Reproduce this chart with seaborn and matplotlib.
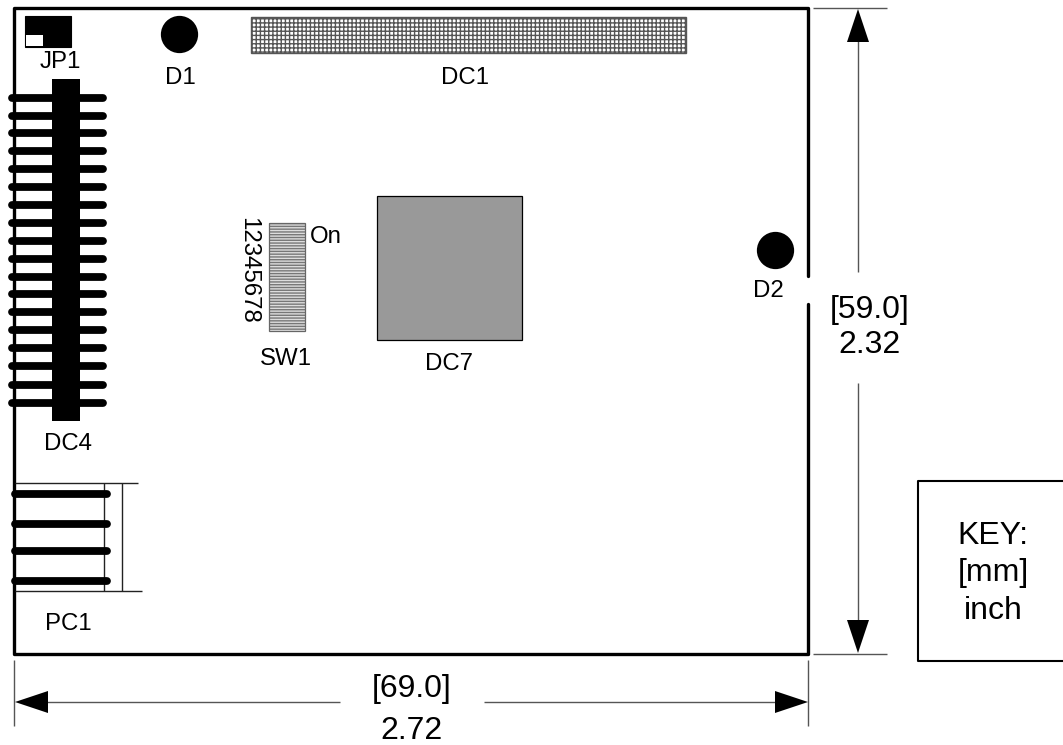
import matplotlib
matplotlib.use("Agg")
import matplotlib.pyplot as plt
from matplotlib.patches import Rectangle, Polygon
import seaborn as sns
import pandas as pd

sns.set_style("white")
plt.rcParams['font.family'] = ['Liberation Sans', 'DejaVu Sans']

board_path = [(808, 276), (808, 8), (14, 8), (14, 654), (808, 654), (808, 304)]
led_x = [178.5, 775]
led_y = [34, 250]
dc4_pin_y = [97.5, 115.5, 133, 151, 169, 187, 205, 222.5, 240.5, 258.5, 276.5, 294, 312, 330, 348, 366, 384.5, 402.5]
pc1_pin_y = [493.5, 523.5, 551, 581]

# (x0, y0, x1, y1)
thin_lines = [
    (15, 483, 138, 483), (15, 591, 142, 591), (104, 483, 104, 591), (122, 483, 122, 591),
    (813, 8, 887, 8), (813, 654, 887, 654), (858, 40, 858, 272), (858, 383, 858, 622),
    (14, 660, 14, 726), (808, 660, 808, 726), (46, 702, 340, 702), (484, 702, 777, 702),
]
key_box = [(1063, 481), (918, 481), (918, 661), (1063, 661)]
arrows = [
    [(858, 9), (847, 42), (869, 42)],
    [(858, 653), (847, 620), (869, 620)],
    [(15, 702), (48, 691), (48, 713)],
    [(808, 702), (775, 691), (775, 713)],
]

small_labels = [("JP1", 60, 62), ("D1", 180, 78), ("DC1", 465, 78), ("DC4", 68, 444), ("PC1", 68, 624),
                ("SW1", 286, 359), ("DC7", 449, 364), ("D2", 768, 291), ("On", 326, 237)]
big_labels = [("[59.0]", 870, 310), ("2.32", 870, 345), ("[69.0]", 412, 689), ("2.72", 412, 731),
              ("KEY:", 993, 536), ("[mm]", 993, 573), ("inch", 993, 611)]


def draw_lines(ax, segs, lw, color="black", cap="butt"):
    rows = []
    for i, (x0, y0, x1, y1) in enumerate(segs):
        rows.append({"seg": i, "n": 0, "x": x0, "y": y0})
        rows.append({"seg": i, "n": 1, "x": x1, "y": y1})
    df = pd.DataFrame(rows)
    sns.lineplot(data=df, x="x", y="y", units="seg", estimator=None, sort=False,
                 color=color, linewidth=lw, solid_capstyle=cap, legend=False, ax=ax)


fig = plt.figure(figsize=(10.63, 7.45), dpi=100)
ax = fig.add_axes([0, 0, 1, 1])

# board outline
board = pd.DataFrame(board_path, columns=["x", "y"])
sns.lineplot(data=board, x="x", y="y", sort=False, estimator=None, color="black", linewidth=2.4, ax=ax)

# JP1
ax.add_patch(Rectangle((24.5, 16), 46, 30.5, fc="black", ec="black", lw=0.8))
ax.add_patch(Rectangle((25.5, 35), 17.5, 11, fc="white", ec="none"))

# LEDs
sns.scatterplot(x=led_x, y=led_y, color="black", s=720, linewidth=0, ax=ax, legend=False)

# DC1 and SW1 are hatched
ax.add_patch(Rectangle((251, 16.5), 435, 36.5, fc="white", ec="#555555", lw=0, hatch="++++"))
ax.add_patch(Rectangle((251, 16.5), 435, 36.5, fc="none", ec="#555555", lw=1))
ax.add_patch(Rectangle((268.5, 223), 36.5, 108, fc="#dddddd", ec="#777777", lw=0, hatch="------"))
ax.add_patch(Rectangle((268.5, 223), 36.5, 108, fc="none", ec="#666666", lw=0.9))

# DC7
ax.add_patch(Rectangle((377, 196), 145, 144, fc="#999999", ec="black", lw=0.9))

# DC4 connector
draw_lines(ax, [(12, y, 103, y) for y in dc4_pin_y], 5.6, cap="round")
ax.add_patch(Rectangle((52, 79), 28, 342, fc="black", ec="none", zorder=3))

# PC1 connector
draw_lines(ax, thin_lines[:4], 1.0, color="#222222")
draw_lines(ax, [(15, y, 107, y) for y in pc1_pin_y], 5.6, cap="round")

# dimensions
draw_lines(ax, thin_lines[4:], 1.0, color="#555555")
for tri in arrows:
    ax.add_patch(Polygon(tri, closed=True, fc="black", ec="none", zorder=3))

# key box
key = pd.DataFrame(key_box, columns=["x", "y"])
sns.lineplot(data=key, x="x", y="y", sort=False, estimator=None, color="black", linewidth=1.5, ax=ax)

for txt, x, y in small_labels:
    ax.text(x, y, txt, fontsize=17.3, color="black", ha="center", va="center")
for txt, x, y in big_labels:
    ax.text(x, y, txt, fontsize=23, color="black", ha="center", va="center")
ax.text(248, 270, "12345678", fontsize=17.3, color="black", rotation=-90, ha="center", va="center")

ax.set_xlim(0, 1063)
ax.set_ylim(745, 0)
ax.set_xlabel("")
ax.set_ylabel("")
ax.axis("off")
fig.savefig("out.png", dpi=100)
